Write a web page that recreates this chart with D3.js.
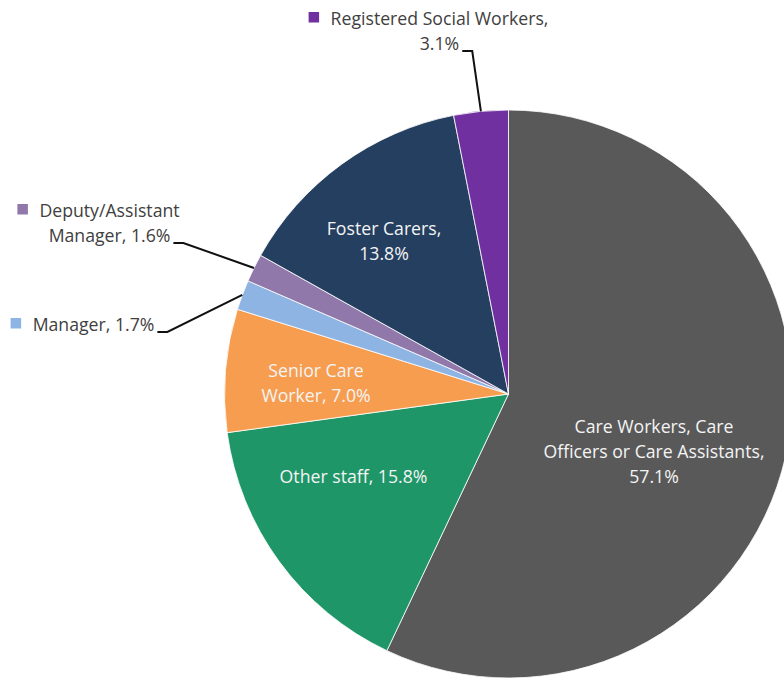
<!DOCTYPE html>
<html>
<head>
<meta charset="utf-8">
<script src="https://cdn.jsdelivr.net/npm/d3@7"></script>
<style>
  body { margin: 0; background: #fff; }
  svg { display: block; font-family: "Open Sans", sans-serif; }
</style>
</head>
<body>
<div id="chart"></div>
<script>
// chart data (slices go clockwise from 12 o'clock)
var categories = ["Care Workers, Care Officers or Care Assistants", "Other staff", "Senior Care Worker",
                  "Manager", "Deputy/Assistant Manager", "Foster Carers", "Registered Social Workers"];
var shares = [57.1, 15.8, 7.0, 1.7, 1.6, 13.8, 3.1];
var colours = ["#595959", "#1f9668", "#f79d4f", "#8db4e2", "#9178ab", "#243f60", "#7030a0"];
// how the data labels wrap in the original
var labelLines = [
  ["Care Workers, Care", "Officers or Care Assistants,", "57.1%"],
  ["Other staff, 15.8%"],
  ["Senior Care", "Worker, 7.0%"],
  ["Manager, 1.7%"],
  ["Deputy/Assistant", "Manager, 1.6%"],
  ["Foster Carers,", "13.8%"],
  ["Registered Social Workers,", "3.1%"]
];

// layout of the labels (centre x of the text block, first baseline)
var labelSpots = [
  {x: 654, y: 433, inside: true},
  {x: 353.5, y: 483, inside: true},
  {x: 316, y: 377, inside: true},
  {x: 93.5, y: 331, inside: false},
  {x: 109.5, y: 217, inside: false},
  {x: 384, y: 235, inside: true},
  {x: 439.5, y: 25, inside: false}
];

var width = 784, height = 679;
var cx = 508.5, cy = 394, radius = 284;
var lineGap = 25;

var svg = d3.select("#chart").append("svg")
  .attr("width", width)
  .attr("height", height);

// pick a font size so the text is as wide as the original
var probe = svg.append("text").attr("font-size", 20).text("Registered Social Workers,");
var fontSize = 20 * 218 / probe.node().getComputedTextLength();
probe.remove();

var pie = d3.pie().sort(null).value(function(d) { return d; });
var arcsData = pie(shares);
var arc = d3.arc().innerRadius(0).outerRadius(radius);
var rim = d3.arc().innerRadius(radius).outerRadius(radius);

var g = svg.append("g").attr("transform", "translate(" + cx + "," + cy + ")");

g.selectAll("path")
  .data(arcsData)
  .join("path")
  .attr("d", arc)
  .attr("fill", function(d, i) { return colours[i]; })
  .attr("stroke", "#fff")
  .attr("stroke-width", 0.8);

// labels
arcsData.forEach(function(d, i) {
  var spot = labelSpots[i];
  var lines = labelLines[i];
  var txt = svg.append("text")
    .attr("font-size", fontSize)
    .attr("text-anchor", "middle")
    .attr("fill", spot.inside ? "#f4f4f4" : "#404040");

  lines.forEach(function(line, k) {
    txt.append("tspan")
      .attr("x", spot.x)
      .attr("y", spot.y + k * lineGap)
      .text(line);
  });

  if (spot.inside) return;

  // little legend square in front of the first line
  var first = txt.select("tspan").node().getComputedTextLength();
  svg.append("rect")
    .attr("x", spot.x - first / 2 - 22)
    .attr("y", spot.y - 13)
    .attr("width", 10.5)
    .attr("height", 10.5)
    .attr("fill", colours[i]);

  // leader line from the end of the last line to the slice edge
  var lastLen = txt.selectAll("tspan").nodes()[lines.length - 1].getComputedTextLength();
  var sx = spot.x + lastLen / 2 + 3;
  var sy = spot.y + (lines.length - 1) * lineGap + 1;
  var edge = rim.centroid(d);
  svg.append("path")
    .attr("d", d3.line()([[sx, sy], [sx + 10, sy], [cx + edge[0], cy + edge[1]]]))
    .attr("fill", "none")
    .attr("stroke", "#111")
    .attr("stroke-width", 2);
});
</script>
</body>
</html>
